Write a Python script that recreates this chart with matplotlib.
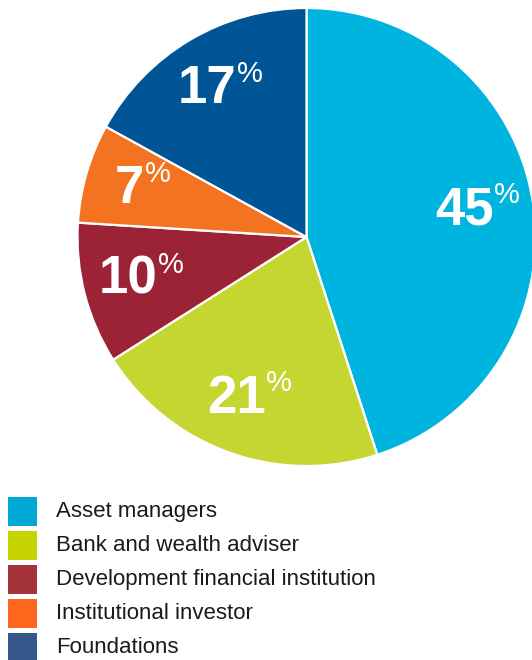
import matplotlib
matplotlib.use("Agg")
import matplotlib.pyplot as plt
from matplotlib.patches import Rectangle
import numpy as np

categories = ["Asset managers", "Bank and wealth adviser",
              "Development financial institution", "Institutional investor",
              "Foundations"]
values = [45, 21, 10, 7, 17]
pie_colors = ["#00B4E0", "#C6D630", "#9C2235", "#F47321", "#005596"]
legend_colors = ["#00A8D6", "#C5D300", "#A5343A", "#FF671F", "#36578A"]

plt.rcParams['font.family'] = ['Liberation Sans', 'DejaVu Sans']

W, H = 532, 660
fig = plt.figure(figsize=(W / 100, H / 100), dpi=100)
ax = fig.add_axes([0, 0, 1, 1])

cx, cy, R = 306.5, H - 237, 229
wedges, _ = ax.pie(values, colors=pie_colors, startangle=90, counterclock=False,
                   center=(cx, cy), radius=R, frame=True,
                   wedgeprops=dict(edgecolor='white', linewidth=1.6))
ax.set_xlim(0, W)
ax.set_ylim(0, H)
ax.set_aspect('equal')
ax.axis('off')

for w, v in zip(wedges, values):
    mid = np.deg2rad((w.theta1 + w.theta2) / 2)
    rr = 0.75 * R
    x = cx + rr * np.cos(mid)
    y = cy + rr * np.sin(mid)
    t = ax.text(x - 12, y, str(v), color='white', fontsize=38, fontweight='bold',
                ha='center', va='center')
    ax.annotate('%', xy=(1, 1), xycoords=t, xytext=(0.5, 3), textcoords='offset points',
                color='white', fontsize=21, ha='left', va='top')

# legend
for i, (c, col) in enumerate(zip(categories, legend_colors)):
    top = 497 + i * 34
    ax.add_patch(Rectangle((8, H - top - 29), 29, 29, facecolor=col, edgecolor='none'))
    ax.text(56, H - top - 14.5, c, fontsize=16, color='#1a1a1a', ha='left', va='center')

fig.savefig("out.png", dpi=100)
